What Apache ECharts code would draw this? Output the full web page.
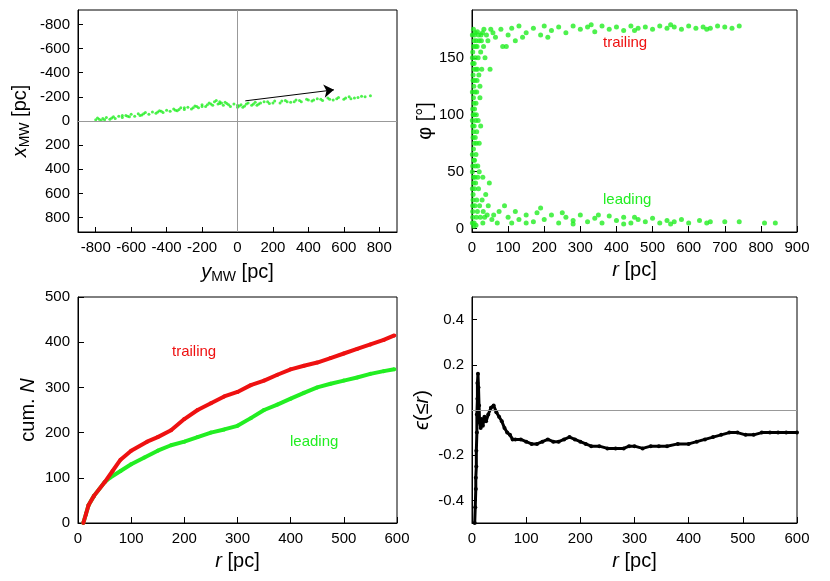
<!DOCTYPE html>
<html><head><meta charset="utf-8">
<script src="https://cdn.jsdelivr.net/npm/echarts@6/dist/echarts.min.js"></script>
<style>html,body{margin:0;background:#fff}#c{width:830px;height:581px}</style>
</head><body><div id="c"></div>
<script>
// Panel 1: positions (y_MW, x_MW)
const mwPoints=[[-800,-10],[-790,-25],[-770,-5],[-760,-20],[-740,-30],[-720,-15],[-700,-35],[-690,-20],[-670,-40],[-650,-30],[-630,-45],[-610,-35],[-600,-55],[-580,-40],[-560,-60],[-540,-50],[-520,-70],[-500,-55],[-480,-75],[-460,-65],[-440,-85],[-420,-70],[-400,-90],[-380,-80],[-360,-100],[-340,-85],[-320,-110],[-300,-95],[-280,-115],[-260,-100],[-240,-125],[-220,-110],[-200,-135],[-180,-120],[-160,-150],[-140,-130],[-120,-170],[-110,-140],[-100,-160],[-80,-130],[-60,-145],[-40,-120],[-20,-140],[0,-115],[20,-135],[40,-125],[60,-150],[80,-130],[100,-155],[120,-140],[150,-160],[180,-145],[210,-165],[240,-150],[270,-170],[300,-155],[330,-175],[360,-160],[390,-180],[420,-165],[450,-185],[480,-170],[510,-190],[540,-175],[570,-195],[600,-180],[630,-200],[660,-190],[700,-205],[750,-210],
[-750,-10],[-650,-45],[-550,-45],[-450,-75],[-350,-90],[-250,-110],[-150,-140],[-130,-160],[-90,-150],[-50,-135],[10,-125],[50,-140],[130,-150],[200,-150],[280,-160],[350,-170],[430,-175],[520,-180],[610,-190],[680,-195],[-300,-110],[-200,-120],[-100,-145],[0,-130],[90,-140],
[-780,-15],[-710,-25],[-620,-40],[-530,-60],[-430,-80],[-330,-95],[-230,-120],[-170,-135],[-70,-155],[30,-115],[110,-130],[170,-160],[250,-165],[320,-160],[400,-175],[470,-180],[560,-185],[640,-185],[720,-200]];
const arrow=[[44,-167],[544,-258]];
// Panel 2: (r, phi)
const phiPoints=[[2,10],[3,30],[1,50],[4,70],[2,90],[5,110],[3,130],[1,150],[6,165],[8,20],[10,40],[7,60],[9,80],[12,100],[8,120],[11,140],[14,160],[15,15],[18,35],[16,55],[20,75],[17,95],[22,115],[19,135],[24,155],[25,170],[28,25],[30,45],[27,140],[32,160],[35,10],[38,30],[36,150],[40,170],[45,20],[48,40],[44,165],[50,140],[55,8],[60,12],[58,172],[65,168],[70,5],[75,15],[80,175],[85,160],[2,20],[4,45],[6,75],[3,100],[5,125],[2,145],[9,55],[13,85],[11,110],[14,130],[20,50],[24,90],[22,125],[7,170],[30,5],[33,175],
[1,5],[2,15],[3,25],[1,35],[4,40],[2,55],[5,60],[1,65],[3,80],[4,85],[1,95],[6,100],[2,105],[4,115],[1,120],[3,135],[5,140],[2,155],[4,160],[1,170],[6,5],[7,35],[8,45],[6,90],[7,105],[8,130],[9,150],[10,160],[6,145],[12,10],[13,25],[11,65],[12,75],[10,95],[13,120],[12,165],[16,45],[15,140],[17,150],[18,170],[21,20],[20,165],[23,10],[26,165],[29,172],[31,15],[42,12],[52,175],[4,175],[9,172],[15,173],[5,2],[11,3],
[100,10],[110,5],[120,15],[130,8],[150,12],[170,6],[190,18],[200,8],[220,12],[240,5],[260,10],[280,7],[300,12],[320,6],[340,9],[360,5],[380,11],[400,7],[420,10],[440,5],[460,8],[480,6],[500,9],[520,5],[540,7],[560,6],[580,8],[600,5],[630,7],[660,6],[700,6],[740,6],[810,5],[840,5],[150,5],[250,14],[350,12],[450,10],[550,4],[650,5],[90,20],[180,14],[280,4],[420,4],
[100,170],[110,176],[120,165],[130,178],[150,172],[170,176],[190,170],[200,178],[220,174],[240,177],[260,172],[280,178],[300,175],[320,177],[340,173],[360,178],[380,175],[400,177],[420,174],[440,178],[460,176],[480,177],[500,175],[520,178],[540,176],[560,177],[580,175],[600,178],[620,176],[640,177],[660,176],[680,178],[700,177],[740,178],[95,160],[140,168],[210,168],[330,179],[450,174],[550,179],[650,175],[720,176]];
// Panel 3: cumulative counts
const trailing=[[10,0],[15,20],[20,40],[30,60],[50,90],[65,115],[80,140],[100,160],[130,180],[150,190],[175,205],[200,230],[225,250],[250,265],[275,280],[300,290],[325,305],[350,315],[375,328],[400,340],[425,348],[450,355],[475,365],[500,375],[525,385],[550,395],[575,405],[595,415]];
const leading=[[10,0],[15,20],[20,40],[30,60],[50,90],[60,100],[80,115],[100,130],[125,145],[150,160],[175,172],[200,180],[225,190],[250,200],[275,207],[300,215],[325,232],[350,250],[375,262],[400,275],[425,288],[450,300],[475,308],[500,315],[525,322],[550,330],[575,336],[595,340]];
// Panel 4: epsilon(<=r)
const eps=[[5,-0.5],[6,-0.43],[7,-0.35],[7,-0.3],[8,-0.25],[8,-0.18],[9,-0.1],[9,-0.02],[10,0.05],[10,0.12],[11,0.16],[12,0.1],[13,0.02],[14,-0.05],[16,-0.08],[18,-0.04],[20,-0.07],[23,-0.03],[26,-0.05],[30,-0.02],[35,0.01],[40,0.02],[45,-0.01],[50,-0.03],[55,-0.05],[60,-0.08],[65,-0.1],[70,-0.11],[75,-0.13],[80,-0.13],[90,-0.13],[100,-0.14],[110,-0.15],[120,-0.15],[130,-0.14],[140,-0.13],[150,-0.14],[160,-0.14],[170,-0.13],[180,-0.12],[190,-0.13],[200,-0.14],[210,-0.15],[220,-0.16],[235,-0.16],[250,-0.17],[265,-0.17],[280,-0.17],[290,-0.16],[300,-0.16],[315,-0.17],[330,-0.16],[345,-0.16],[360,-0.16],[380,-0.15],[400,-0.15],[415,-0.14],[430,-0.13],[445,-0.12],[460,-0.11],[475,-0.1],[490,-0.1],[505,-0.11],[520,-0.11],[535,-0.1],[550,-0.1],[565,-0.1],[580,-0.1],[600,-0.1]];

const F='Liberation Sans, Arial, sans-serif';
const lab={color:'#000',fontSize:15,fontFamily:F};
const rich={i:{fontStyle:'italic',fontSize:20,fontFamily:F},n:{fontSize:20,fontFamily:F},s:{fontSize:14,fontFamily:F,padding:[10,0,0,0]}};
function ax(o){return Object.assign({axisLine:{show:true,onZero:false,lineStyle:{color:'#000'}},axisTick:{inside:true,length:6,lineStyle:{color:'#000'}},axisLabel:lab,splitLine:{show:false},nameLocation:'middle',nameTextStyle:{rich:rich,color:'#000'}},o);}
const grids=[{left:78,top:10,width:319,height:222},{left:472,top:10,width:325,height:222},{left:78,top:297,width:319,height:226},{left:472,top:297,width:325,height:226}].map(g=>Object.assign(g,{show:true,borderColor:'#000',borderWidth:1,backgroundColor:'transparent'}));
const gray={color:'#999',width:1,type:'solid'};
const option={animation:false,grid:grids,
xAxis:[
ax({gridIndex:0,min:-900,max:900,axisLabel:Object.assign({customValues:[-800,-600,-400,-200,0,200,400,600,800]},lab),axisTick:{inside:true,customValues:[-800,-600,-400,-200,0,200,400,600,800]},name:'{i|y}{s|MW}{n| [pc]}',nameGap:28}),
ax({gridIndex:1,min:0,max:900,interval:100,name:'{i|r}{n| [pc]}',nameGap:28}),
ax({gridIndex:2,min:0,max:600,interval:100,name:'{i|r}{n| [pc]}',nameGap:28}),
ax({gridIndex:3,min:0,max:600,interval:100,name:'{i|r}{n| [pc]}',nameGap:28})],
yAxis:[
ax({gridIndex:0,min:-920,max:920,inverse:true,axisLabel:Object.assign({customValues:[-800,-600,-400,-200,0,200,400,600,800]},lab),axisTick:{inside:true,customValues:[-800,-600,-400,-200,0,200,400,600,800]},name:'{i|x}{s|MW}{n| [pc]}',nameGap:46}),
ax({gridIndex:1,min:-3,max:192,axisLabel:Object.assign({customValues:[0,50,100,150]},lab),axisTick:{inside:true,customValues:[0,50,100,150]},name:'{n|φ [°]}',nameGap:36}),
ax({gridIndex:2,min:0,max:500,interval:100,name:'{n|cum. }{i|N}',nameGap:40}),
ax({gridIndex:3,min:-0.5,max:0.5,interval:0.2,axisLabel:Object.assign({customValues:[-0.4,-0.2,0,0.2,0.4],formatter:v=>Math.abs(v)<1e-9?'0':v.toFixed(1)},lab),axisTick:{inside:true,customValues:[-0.4,-0.2,0,0.2,0.4]},name:'{i|ϵ}{n|(≤}{i|r}{n|)}',nameGap:40})],
series:[
{type:'scatter',xAxisIndex:0,yAxisIndex:0,data:mwPoints,symbolSize:3,itemStyle:{color:'#22ee22'},
 markLine:{silent:true,symbol:'none',label:{show:false},lineStyle:gray,data:[{xAxis:0},{yAxis:0}]}},
{type:'lines',coordinateSystem:'cartesian2d',xAxisIndex:0,yAxisIndex:0,data:[{coords:arrow}],symbol:['none','arrow'],symbolSize:10,lineStyle:{color:'#000',width:1,opacity:1},z:5},
{type:'scatter',xAxisIndex:1,yAxisIndex:1,data:phiPoints,symbolSize:5,itemStyle:{color:'#22ee22'}},
{type:'line',xAxisIndex:2,yAxisIndex:2,data:trailing,symbol:'circle',symbolSize:4,lineStyle:{color:'#ee1111',width:4},itemStyle:{color:'#ee1111'}},
{type:'line',xAxisIndex:2,yAxisIndex:2,data:leading,symbol:'circle',symbolSize:4,lineStyle:{color:'#22ee22',width:4},itemStyle:{color:'#22ee22'},z:1},
{type:'line',xAxisIndex:3,yAxisIndex:3,data:eps,symbol:'circle',symbolSize:4,lineStyle:{color:'#000',width:3},itemStyle:{color:'#000'},
 markLine:{silent:true,symbol:'none',label:{show:false},lineStyle:gray,data:[{yAxis:0}]}}
],
graphic:[
{type:'text',left:603,top:35,style:{text:'trailing',fill:'#ee1111',font:'15px '+F}},
{type:'text',left:603,top:192,style:{text:'leading',fill:'#22ee22',font:'15px '+F}},
{type:'text',left:172,top:344,style:{text:'trailing',fill:'#ee1111',font:'15px '+F}},
{type:'text',left:290,top:434,style:{text:'leading',fill:'#22ee22',font:'15px '+F}}
]};
echarts.init(document.getElementById('c')).setOption(option);
</script></body></html>
